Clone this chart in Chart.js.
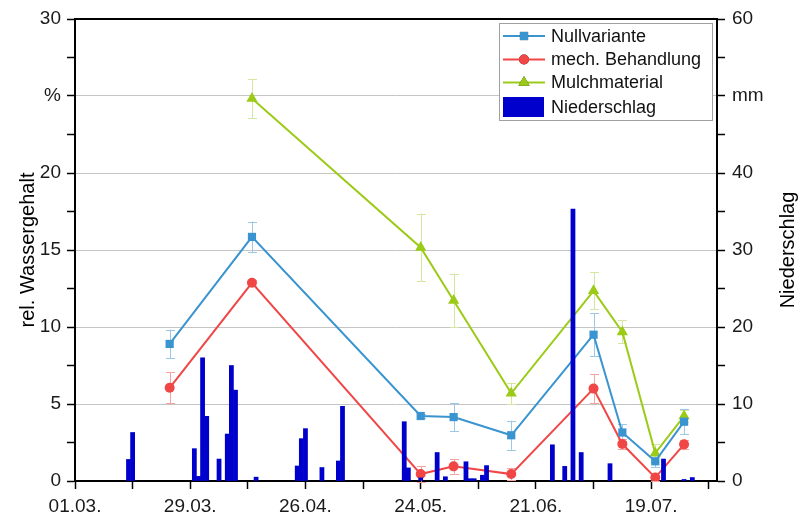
<!DOCTYPE html>
<html><head><meta charset="utf-8">
<script src="https://cdn.jsdelivr.net/npm/chart.js@4.4.1/dist/chart.umd.min.js"></script>
<style>html,body{margin:0;padding:0;background:#fff;overflow:hidden}</style>
</head><body>
<canvas id="c" width="800" height="518"></canvas>
<script>
// ---- data ----
const sampleDates = ['24.03.','13.04.','24.05.','01.06.','15.06.','05.07.','12.07.','20.07.','27.07.'];
const nullvariante      = [8.9, 15.85, 4.22, 4.15, 2.97, 9.5, 3.15, 1.28, 3.85];
const nullvarianteErr   = [0.93, 1.0, 0.15, 0.9, 0.95, 1.4, 0.55, 0.4, 0.8];
const mechBehandlung    = [6.05, 12.87, 0.45, 0.95, 0.45, 6.0, 2.4, 0.22, 2.38];
const mechBehandlungErr = [1.0, 0.2, 0.5, 0.47, 0.4, 0.95, 0.3, 0.2, 0.3];
const mulchmaterial     = [null, 24.83, 15.17, 11.72, 5.69, 12.35, 9.68, 1.81, 4.22];
const mulchmaterialErr  = [null, 1.27, 2.2, 1.75, 0.7, 1.2, 0.75, 0.6, 0.4];

const rainDates = ['14.03.','15.03.','30.03.','31.03.','01.04.','02.04.','05.04.','07.04.','08.04.','09.04.',
  '14.04.','24.04.','25.04.','26.04.','30.04.','04.05.','05.05.','20.05.','21.05.','24.05.','28.05.','30.05.',
  '04.06.','05.06.','06.06.','08.06.','09.06.','25.06.','28.06.','30.06.','02.07.','09.07.','22.07.','27.07.','29.07.'];
const rainMm = [2.8, 6.3, 4.2, 0.6, 16.0, 8.4, 2.85, 6.1, 15.0, 11.8,
  0.5, 1.95, 5.5, 6.8, 1.75, 2.6, 9.7, 7.7, 1.7, 0.4, 3.7, 0.55,
  2.5, 0.3, 0.3, 0.75, 2.0, 4.7, 1.9, 35.3, 3.7, 2.25, 2.85, 0.2, 0.45];

const xTickLabels = ['01.03.','29.03.','26.04.','24.05.','21.06.','19.07.'];
const xAxisEnd = '01.08.';
const yLeftTicks = [0, 5, 10, 15, 20, 25, 30];
const yLeftTickLabels = ['0','5','10','15','20','%','30'];
const yRightTicks = [0, 10, 20, 30, 40, 50, 60];
const yRightTickLabels = ['0','10','20','30','40','mm','60'];

// ---- helpers ----
const monthStart = {3:0, 4:31, 5:61, 6:92, 7:122, 8:153};
function dayOf(s){ const p = s.split('.'); return monthStart[+p[1]] + (+p[0]) - 1; }
function xy(values){ return sampleDates.map((d,i)=>({x: dayOf(d), y: values[i]})); }

const FONT = '"Liberation Sans", Arial, sans-serif';
Chart.defaults.font.family = FONT;
Chart.defaults.color = '#1a1a1a';

const xMajor = xTickLabels.map(dayOf);
const xMinor = xMajor.map(v => v + 14);
const xLabelMap = {}; xMajor.forEach((v,i)=>xLabelMap[v]=xTickLabels[i]);
const yLMap = {}; yLeftTicks.forEach((v,i)=>yLMap[v]=yLeftTickLabels[i]);
const yRMap = {}; yRightTicks.forEach((v,i)=>yRMap[v]=yRightTickLabels[i]);
function withMinor(arr){ const out=[]; arr.forEach((v,i)=>{ out.push(v); if(i<arr.length-1) out.push((v+arr[i+1])/2); }); return out; }

const C_NULL = '#3a94d0', C_MECH = '#f04646', C_MULCH = '#9ccb17', C_RAIN = '#0000cc';

const errorBars = {
  id: 'errorBars',
  beforeDatasetsDraw(chart){
    const ctx = chart.ctx, xs = chart.scales.x;
    chart.data.datasets.forEach((ds, di) => {
      if (!ds.errors) return;
      const ys = chart.scales[ds.yAxisID || 'y'];
      ctx.save();
      ctx.strokeStyle = ds.errorColor; ctx.lineWidth = 1;
      ds.data.forEach((p, i) => {
        const e = ds.errors[i];
        if (p.y == null || e == null) return;
        const x = Math.round(xs.getPixelForValue(p.x)) + 0.5;
        const y1 = ys.getPixelForValue(p.y + e), y2 = ys.getPixelForValue(p.y - e);
        ctx.beginPath();
        ctx.moveTo(x, y1); ctx.lineTo(x, y2);
        ctx.moveTo(x-4.5, Math.round(y1)+0.5); ctx.lineTo(x+4.5, Math.round(y1)+0.5);
        ctx.moveTo(x-4.5, Math.round(y2)+0.5); ctx.lineTo(x+4.5, Math.round(y2)+0.5);
        ctx.stroke();
      });
      ctx.restore();
    });
  }
};

const decorations = {
  id: 'decorations',
  afterDraw(chart){
    const ctx = chart.ctx, a = chart.chartArea;
    ctx.save();
    // top frame line
    ctx.strokeStyle = '#000'; ctx.lineWidth = 2;
    ctx.beginPath(); ctx.moveTo(a.left-1, a.top); ctx.lineTo(a.right+1, a.top); ctx.stroke();
    // right axis title (reads bottom to top)
    ctx.fillStyle = '#000';
    ctx.font = '20px ' + FONT;
    ctx.translate(788, (a.top + a.bottom)/2);
    ctx.rotate(-Math.PI/2);
    ctx.textAlign = 'center'; ctx.textBaseline = 'middle';
    ctx.fillText('Niederschlag', 0, 0);
    ctx.restore();

    // legend
    ctx.save();
    const bx = 499.5, by = 23.5, bw = 213, bh = 97;
    ctx.fillStyle = '#fff'; ctx.fillRect(bx, by, bw, bh);
    ctx.strokeStyle = '#a0a0a0'; ctx.lineWidth = 1; ctx.strokeRect(bx, by, bw, bh);
    ctx.font = '18px ' + FONT; ctx.fillStyle = '#111'; ctx.textBaseline = 'middle'; ctx.textAlign = 'left';
    const rows = [36, 59.5, 82.5, 107];
    const lineSets = chart.data.datasets.filter(d => d.type === 'line');
    lineSets.forEach((ds, i) => {
      const y = rows[i];
      ctx.strokeStyle = ds.borderColor; ctx.lineWidth = 2;
      ctx.beginPath(); ctx.moveTo(503, y); ctx.lineTo(545, y); ctx.stroke();
      Chart.helpers.drawPoint(ctx, {pointStyle: ds.pointStyle, radius: ds.pointRadius, borderWidth: 0, rotation: 0}, 524, y);
      ctx.fillStyle = ds.borderColor; ctx.fill();
      ctx.fillStyle = '#111';
      ctx.fillText(ds.label, 551, y + 1);
    });
    const bar = chart.data.datasets.find(d => d.type === 'bar');
    ctx.fillStyle = bar.backgroundColor; ctx.fillRect(503, 97, 41, 20);
    ctx.fillStyle = '#111'; ctx.fillText(bar.label, 551, rows[3] + 1);
    ctx.restore();
  }
};

new Chart(document.getElementById('c'), {
  data: {
    datasets: [
      { type: 'line', label: 'Nullvariante', data: xy(nullvariante), errors: nullvarianteErr, errorColor: '#9cc8e8',
        borderColor: C_NULL, backgroundColor: C_NULL, borderWidth: 2, pointStyle: 'rect', pointRadius: 5.8,
        pointBorderWidth: 0, pointBackgroundColor: C_NULL, yAxisID: 'y', order: 1 },
      { type: 'line', label: 'mech. Behandlung', data: xy(mechBehandlung), errors: mechBehandlungErr, errorColor: '#f4a3a3',
        borderColor: C_MECH, backgroundColor: C_MECH, borderWidth: 2, pointStyle: 'circle', pointRadius: 5,
        pointBorderWidth: 0, pointBackgroundColor: C_MECH, yAxisID: 'y', order: 2 },
      { type: 'line', label: 'Mulchmaterial', data: xy(mulchmaterial), errors: mulchmaterialErr, errorColor: '#d3e89e',
        borderColor: C_MULCH, backgroundColor: C_MULCH, borderWidth: 2, pointStyle: 'triangle', pointRadius: 6.5,
        pointBorderWidth: 0, pointBackgroundColor: C_MULCH, yAxisID: 'y', order: 3 },
      { type: 'bar', label: 'Niederschlag', data: rainDates.map((d,i)=>({x: dayOf(d), y: rainMm[i]})),
        backgroundColor: C_RAIN, borderWidth: 0, barPercentage: 1, categoryPercentage: 1, yAxisID: 'y2', order: 0 }
    ]
  },
  options: {
    responsive: false, animation: false, devicePixelRatio: 1,
    layout: { padding: { top: 19, left: 0, right: 0, bottom: 0 } },
    plugins: { legend: { display: false }, tooltip: { enabled: false } },
    scales: {
      x: {
        type: 'linear', min: 0, max: dayOf(xAxisEnd) + 3, offset: false,
        afterBuildTicks: s => { s.ticks = xMajor.concat(xMinor).sort((a,b)=>a-b).map(v=>({value:v})); },
        afterFit: s => { s.height = 37; },
        ticks: { autoSkip: false, maxRotation: 0, padding: 6, font: { size: 19 }, color: '#1a1a1a',
                 callback: v => xLabelMap[v] || '' },
        grid: { drawOnChartArea: false, drawTicks: true, tickLength: 8, tickColor: '#000', tickWidth: 1.5, offset: false },
        border: { display: true, color: '#000', width: 2 }
      },
      y: {
        type: 'linear', position: 'left', min: 0, max: 30,
        afterBuildTicks: s => { s.ticks = withMinor(yLeftTicks).map(v=>({value:v})); },
        afterFit: s => { s.width = 75; },
        ticks: { autoSkip: false, padding: 6, font: { size: 19 }, color: '#1a1a1a',
                 callback: v => (yLMap[v] !== undefined ? yLMap[v] : '') },
        grid: { drawTicks: true, tickLength: 8, tickColor: '#000', tickWidth: 1.5, lineWidth: 1,
                color: c => (c.tick && c.tick.value % 5 === 0 && c.tick.value > 0 && c.tick.value < 30) ? '#c4c4c4' : 'rgba(0,0,0,0)' },
        border: { display: true, color: '#000', width: 2 },
        title: { display: true, text: 'rel. Wassergehalt', color: '#000', font: { size: 20 }, padding: { top: 16, bottom: 0 } }
      },
      y2: {
        type: 'linear', position: 'right', min: 0, max: 60,
        afterBuildTicks: s => { s.ticks = withMinor(yRightTicks).map(v=>({value:v})); },
        afterFit: s => { s.width = 83; },
        ticks: { autoSkip: false, padding: 7, font: { size: 19 }, color: '#1a1a1a',
                 callback: v => (yRMap[v] !== undefined ? yRMap[v] : '') },
        grid: { drawOnChartArea: false, drawTicks: true, tickLength: 8, tickColor: '#000', tickWidth: 1.5 },
        border: { display: true, color: '#000', width: 2 }
      }
    }
  },
  plugins: [errorBars, decorations]
});
</script>
</body></html>
